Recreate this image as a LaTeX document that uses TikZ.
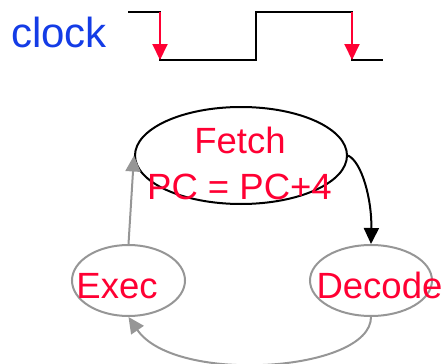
\documentclass[tikz,border=0pt]{standalone}
\usepackage{fontspec}
\setmainfont{Liberation Sans}
\usetikzlibrary{shapes.geometric,arrows.meta}
\definecolor{stagered}{RGB}{255,0,51}
\definecolor{clockblue}{RGB}{20,60,230}
\definecolor{loopgray}{RGB}{150,150,150}
\begin{document}
\begin{tikzpicture}[x=1pt, y=-1pt,
  stagetext/.style={text=stagered, inner sep=0pt, anchor=base, font=\fontsize{36.5}{46}\selectfont},
  stage/.style={draw, ellipse, line width=2pt, inner sep=0pt},
  bigtip/.style={-{Triangle[length=16pt,width=15pt]}}]
\useasboundingbox (0,0) rectangle (445,364);

\node[text=clockblue, inner sep=0pt, anchor=base west, font=\fontsize{42}{50}\selectfont] (clk) at (11,47) {clock};
\draw[line width=2pt] (128,12) -- (160,12) -- (160,60) -- (256,60) -- (256,12) -- (352,12) -- (352,60) -- (383,60);
\coordinate (edgeAtop) at (160,12);
\coordinate (edgeAbot) at (160,60);
\coordinate (edgeBtop) at (352,12);
\coordinate (edgeBbot) at (352,60);
\draw[stagered, line width=2pt, bigtip] (edgeAtop) -- (edgeAbot);
\draw[stagered, line width=2pt, bigtip] (edgeBtop) -- (edgeBbot);

\node[stage, black, minimum width=212pt, minimum height=97pt] (fetch) at (241,155.5) {};
\node[stage, loopgray, minimum width=113pt, minimum height=71pt] (exec) at (128.5,280.5) {};
\node[stage, loopgray, minimum width=122pt, minimum height=71pt] (decode) at (371,280.5) {};

\draw[line width=2pt, bigtip] (fetch.east) .. controls (362,162) and (372,200) .. (decode.north);
\draw[loopgray, line width=2pt, bigtip] (decode.south) .. controls (371,372) and (175,385) .. (exec.south);
\draw[loopgray, line width=2pt, bigtip] (exec.north) -- (fetch.west);

\node[stagetext] (fetchname) at (240,153) {Fetch};
\node[stagetext] (fetchpc) at (239.5,199) {PC = PC+4};
\node[stagetext] (execname) at (117,298) {Exec};
\node[stagetext] (decodename) at (379.5,298) {Decode};
\end{tikzpicture}
\end{document}
